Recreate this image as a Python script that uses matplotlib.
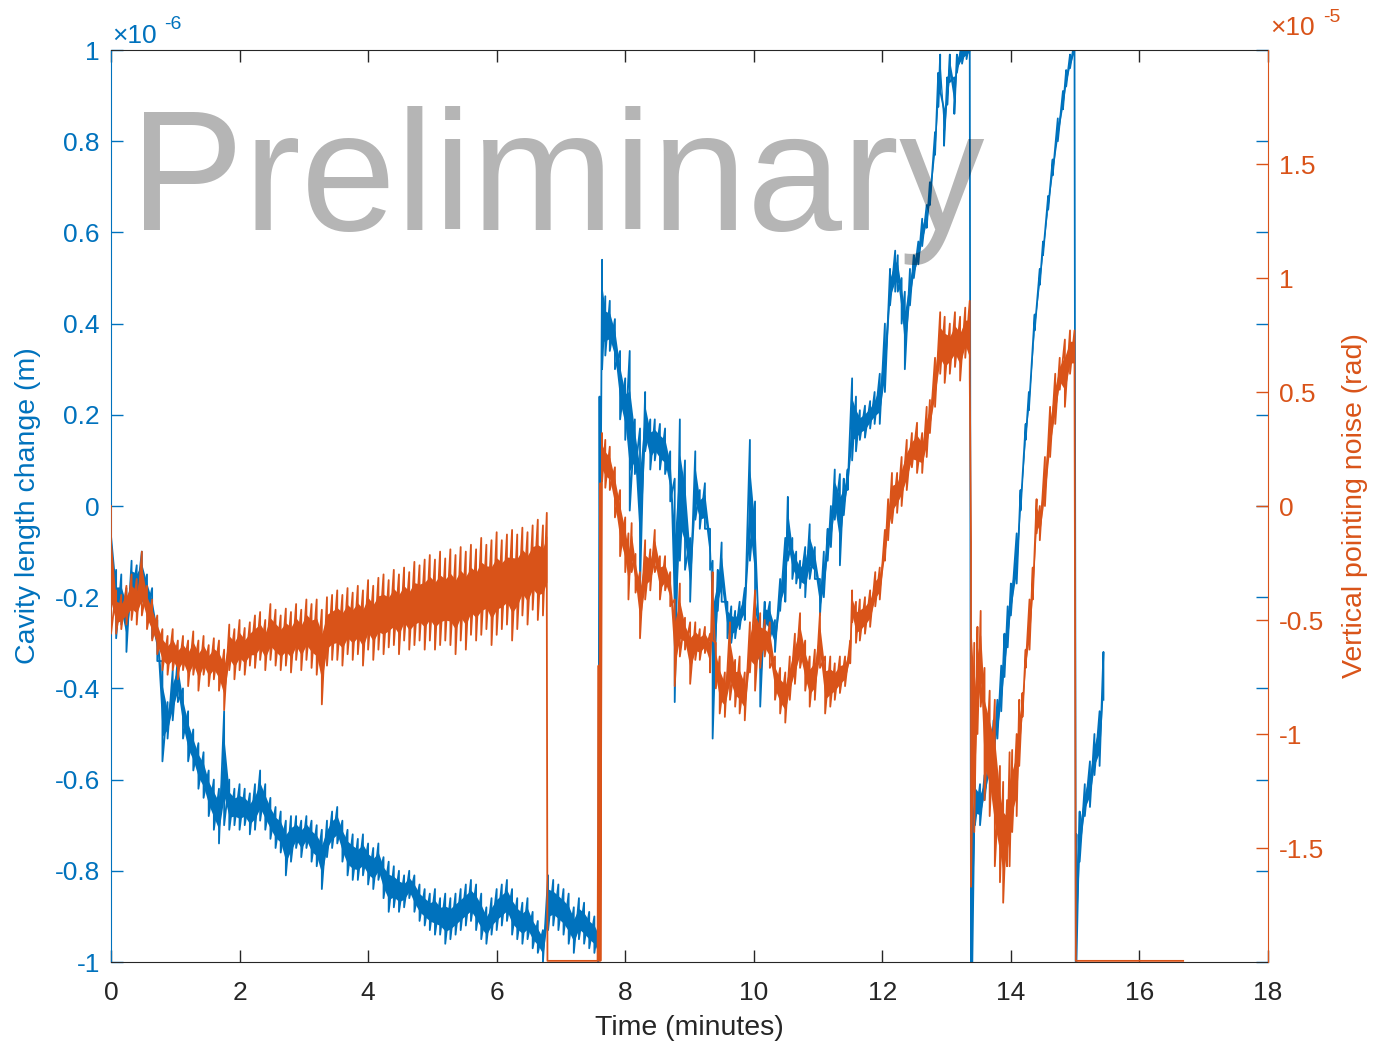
import numpy as np
import matplotlib
matplotlib.use("Agg")
import matplotlib.pyplot as plt

# --- data (time in minutes) ---
# cavity length change, units of 1e-6 m. each knot: lower / upper edge of the noise band
blue_a_t = [0.00, 0.08, 0.16, 0.24, 0.32, 0.40, 0.48, 0.56, 0.64, 0.72,
            0.80, 0.88, 0.96, 1.04, 1.12, 1.20, 1.28, 1.36, 1.44, 1.52,
            1.60, 1.68, 1.76, 1.84, 1.92, 2.00, 2.08, 2.16, 2.24, 2.32,
            2.40, 2.48, 2.56, 2.64, 2.72, 2.80, 2.88, 2.96, 3.04, 3.12,
            3.20, 3.28, 3.36, 3.44, 3.52, 3.60, 3.68, 3.76, 3.84, 3.92,
            4.00, 4.08, 4.16, 4.24, 4.32, 4.40, 4.48, 4.56, 4.64, 4.72,
            4.80, 4.88, 4.96, 5.04, 5.12, 5.20, 5.28, 5.36, 5.44, 5.52,
            5.60, 5.68, 5.76, 5.84, 5.92, 6.00, 6.08, 6.16, 6.24, 6.32,
            6.40, 6.48, 6.56, 6.64, 6.72, 6.80, 6.88, 6.96, 7.04, 7.12,
            7.20, 7.28, 7.36, 7.44, 7.52, 7.58]
blue_a_lo = [-0.22, -0.29, -0.26, -0.32, -0.21, -0.20, -0.21, -0.23, -0.29, -0.34,
             -0.56, -0.51, -0.47, -0.43, -0.51, -0.56, -0.58, -0.62, -0.64, -0.68,
             -0.71, -0.74, -0.70, -0.71, -0.70, -0.71, -0.70, -0.72, -0.71, -0.69,
             -0.71, -0.73, -0.75, -0.76, -0.81, -0.78, -0.75, -0.77, -0.75, -0.78,
             -0.79, -0.84, -0.77, -0.75, -0.74, -0.78, -0.81, -0.82, -0.82, -0.81,
             -0.83, -0.84, -0.82, -0.86, -0.89, -0.88, -0.89, -0.88, -0.86, -0.89,
             -0.91, -0.92, -0.93, -0.94, -0.94, -0.96, -0.95, -0.94, -0.93, -0.92,
             -0.91, -0.93, -0.95, -0.96, -0.94, -0.93, -0.92, -0.91, -0.94, -0.95,
             -0.96, -0.95, -0.97, -0.98, -1.00, -0.93, -0.92, -0.93, -0.94, -0.96,
             -0.98, -0.95, -0.96, -0.97, -0.98, -1.00]
blue_a_hi = [0.00, -0.14, -0.15, -0.18, -0.12, -0.13, -0.10, -0.15, -0.18, -0.25,
             -0.34, -0.43, -0.36, -0.33, -0.40, -0.45, -0.49, -0.52, -0.54, -0.58,
             -0.60, -0.62, -0.45, -0.60, -0.62, -0.61, -0.62, -0.63, -0.61, -0.58,
             -0.61, -0.64, -0.66, -0.67, -0.69, -0.68, -0.68, -0.69, -0.68, -0.69,
             -0.70, -0.71, -0.69, -0.67, -0.66, -0.69, -0.71, -0.72, -0.73, -0.72,
             -0.74, -0.75, -0.74, -0.77, -0.78, -0.79, -0.80, -0.81, -0.80, -0.81,
             -0.83, -0.84, -0.85, -0.84, -0.86, -0.85, -0.86, -0.85, -0.84, -0.83,
             -0.82, -0.83, -0.85, -0.88, -0.86, -0.84, -0.83, -0.82, -0.84, -0.86,
             -0.87, -0.86, -0.89, -0.91, -0.93, -0.81, -0.82, -0.83, -0.84, -0.85,
             -0.88, -0.86, -0.87, -0.89, -0.90, -0.92]

blue_jump_t = [7.60, 7.61]
blue_jump_v = [0.24, -0.18]

blue_b_t = [7.64, 7.69, 7.76, 7.84, 7.92, 8.00, 8.07, 8.15, 8.23, 8.31,
            8.39, 8.46, 8.54, 8.62, 8.70, 8.77, 8.85, 8.93, 9.01, 9.09,
            9.16, 9.24, 9.32, 9.36, 9.44, 9.50, 9.59, 9.65, 9.71, 9.78,
            9.86, 9.94, 10.02, 10.10, 10.17, 10.25, 10.33, 10.41, 10.49, 10.53,
            10.60, 10.66, 10.72, 10.80, 10.87, 10.95, 11.03, 11.09, 11.15, 11.20,
            11.26, 11.34, 11.40, 11.46, 11.53, 11.59, 11.65, 11.73, 11.81, 11.88,
            11.96, 12.04, 12.12, 12.20, 12.24, 12.30, 12.35, 12.43, 12.49, 12.56,
            12.62, 12.69, 12.74, 12.82, 12.87, 12.90, 12.96, 13.01, 13.05, 13.12,
            13.16, 13.24, 13.31, 13.36]
blue_b_lo = [0.30, 0.33, 0.34, 0.30, 0.19, 0.145, -0.01, 0.07, -0.18, 0.12,
             0.08, 0.10, 0.08, 0.07, 0.01, -0.43, -0.12, -0.14, -0.21, -0.03,
             -0.05, -0.05, -0.14, -0.51, -0.23, -0.21, -0.29, -0.30, -0.29, -0.27,
             -0.25, -0.12, -0.21, -0.44, -0.27, -0.29, -0.32, -0.23, -0.21, -0.12,
             -0.16, -0.17, -0.18, -0.20, -0.16, -0.16, -0.24, -0.20, -0.12, -0.09,
             -0.03, -0.13, -0.02, 0.035, 0.10, 0.12, 0.145, 0.15, 0.17, 0.18,
             0.18, 0.25, 0.44, 0.47, 0.47, 0.40, 0.30, 0.44, 0.50, 0.53,
             0.57, 0.61, 0.66, 0.77, 0.875, 0.91, 0.79, 0.88, 0.93, 0.86,
             0.95, 0.97, 0.98, 0.99]
blue_b_hi = [0.54, 0.46, 0.45, 0.41, 0.34, 0.28, 0.34, 0.19, 0.17, 0.25,
             0.19, 0.19, 0.18, 0.17, 0.12, 0.06, 0.19, 0.10, -0.07, 0.12,
             0.035, 0.05, -0.05, -0.12, -0.14, -0.08, -0.21, -0.22, -0.23, -0.21,
             -0.18, 0.145, 0.01, -0.29, -0.21, -0.21, -0.25, -0.16, -0.07, 0.02,
             -0.07, -0.10, -0.12, -0.09, -0.04, -0.09, -0.16, -0.10, -0.05, 0.00,
             0.08, 0.07, 0.06, 0.08, 0.28, 0.24, 0.21, 0.22, 0.23, 0.25,
             0.29, 0.40, 0.52, 0.56, 0.55, 0.50, 0.47, 0.52, 0.55, 0.58,
             0.63, 0.66, 0.71, 0.82, 0.95, 0.99, 0.87, 0.94, 0.99, 0.94,
             0.99, 1.02, 1.02, 1.02]

blue_c_t = [13.40, 13.44, 13.52, 13.59, 13.67, 13.73, 13.79, 13.85, 13.90, 13.95,
            14.00, 14.09, 14.15, 14.23, 14.28, 14.37, 14.45, 14.50, 14.58, 14.65,
            14.73, 14.81, 14.86, 14.92, 14.99]
blue_c_lo = [-1.00, -0.70, -0.70, -0.645, -0.59, -0.56, -0.51, -0.45, -0.375, -0.31,
             -0.24, -0.17, -0.01, 0.145, 0.21, 0.385, 0.485, 0.55, 0.65, 0.725,
             0.80, 0.87, 0.92, 0.96, 0.99]
blue_c_hi = [-0.57, -0.59, -0.61, -0.59, -0.535, -0.47, -0.425, -0.35, -0.28, -0.22,
             -0.17, -0.06, 0.035, 0.18, 0.25, 0.42, 0.52, 0.58, 0.68, 0.76,
             0.85, 0.91, 0.956, 0.99, 1.02]

blue_d_t = [15.02, 15.07, 15.15, 15.23, 15.30, 15.38, 15.44]
blue_d_lo = [-1.00, -0.78, -0.68, -0.66, -0.59, -0.57, -0.425]
blue_d_hi = [-0.72, -0.67, -0.61, -0.56, -0.50, -0.45, -0.32]

# vertical pointing noise, units of 1e-5 rad
orange_a_t = [0.00, 0.08, 0.16, 0.24, 0.32, 0.40, 0.48, 0.56, 0.64, 0.72,
              0.80, 0.88, 0.96, 1.04, 1.12, 1.20, 1.28, 1.36, 1.44, 1.52,
              1.60, 1.68, 1.76, 1.84, 1.92, 2.00, 2.08, 2.16, 2.24, 2.32,
              2.40, 2.48, 2.56, 2.64, 2.72, 2.80, 2.88, 2.96, 3.04, 3.12,
              3.20, 3.28, 3.36, 3.44, 3.52, 3.60, 3.68, 3.76, 3.84, 3.92,
              4.00, 4.08, 4.16, 4.24, 4.32, 4.40, 4.48, 4.56, 4.64, 4.72,
              4.80, 4.88, 4.96, 5.04, 5.12, 5.20, 5.28, 5.36, 5.44, 5.52,
              5.60, 5.68, 5.76, 5.84, 5.92, 6.00, 6.08, 6.16, 6.24, 6.32,
              6.40, 6.48, 6.56, 6.64, 6.72, 6.78]
orange_a_lo = [-0.56, -0.56, -0.54, -0.52, -0.50, -0.52, -0.48, -0.54, -0.59, -0.65,
               -0.72, -0.74, -0.72, -0.76, -0.72, -0.79, -0.74, -0.81, -0.74, -0.79,
               -0.76, -0.81, -0.895, -0.72, -0.76, -0.72, -0.74, -0.70, -0.71, -0.675,
               -0.72, -0.675, -0.70, -0.72, -0.70, -0.73, -0.675, -0.72, -0.675, -0.71,
               -0.74, -0.87, -0.70, -0.675, -0.675, -0.70, -0.65, -0.675, -0.65, -0.70,
               -0.63, -0.675, -0.63, -0.65, -0.62, -0.61, -0.65, -0.59, -0.63, -0.61,
               -0.59, -0.63, -0.59, -0.63, -0.61, -0.59, -0.61, -0.65, -0.59, -0.63,
               -0.565, -0.59, -0.565, -0.54, -0.61, -0.565, -0.54, -0.52, -0.59, -0.54,
               -0.48, -0.52, -0.455, -0.50, -0.48, -0.435]
orange_a_hi = [0.00, -0.37, -0.39, -0.35, -0.30, -0.32, -0.20, -0.35, -0.41, -0.48,
               -0.54, -0.57, -0.54, -0.59, -0.57, -0.59, -0.55, -0.59, -0.57, -0.61,
               -0.58, -0.59, -0.63, -0.52, -0.54, -0.50, -0.535, -0.51, -0.48, -0.465,
               -0.50, -0.43, -0.455, -0.48, -0.45, -0.465, -0.43, -0.455, -0.41, -0.43,
               -0.41, -0.455, -0.40, -0.39, -0.37, -0.39, -0.36, -0.38, -0.35, -0.37,
               -0.325, -0.35, -0.315, -0.30, -0.325, -0.28, -0.30, -0.27, -0.29, -0.245,
               -0.26, -0.235, -0.215, -0.235, -0.20, -0.23, -0.19, -0.215, -0.18, -0.20,
               -0.17, -0.19, -0.14, -0.17, -0.15, -0.115, -0.15, -0.125, -0.105, -0.125,
               -0.095, -0.115, -0.085, -0.06, -0.085, -0.03]

# laser unlocked: signal sits at the bottom of the range
orange_off1_t = [6.79, 7.57, 7.585, 7.595, 7.61, 7.615]
orange_off1_v = [-1.995, -1.995, -0.70, -1.995, 0.10, -1.995]

orange_b_t = [7.64, 7.69, 7.76, 7.84, 7.92, 8.00, 8.05, 8.10, 8.16, 8.23,
              8.31, 8.39, 8.46, 8.54, 8.62, 8.70, 8.77, 8.85, 8.93, 9.01,
              9.09, 9.16, 9.24, 9.32, 9.36, 9.41, 9.47, 9.55, 9.63, 9.71,
              9.78, 9.86, 9.94, 10.02, 10.10, 10.17, 10.25, 10.33, 10.41, 10.49,
              10.56, 10.64, 10.72, 10.80, 10.87, 10.95, 11.03, 11.11, 11.19, 11.26,
              11.34, 11.42, 11.50, 11.53, 11.59, 11.65, 11.73, 11.81, 11.89, 11.96,
              12.04, 12.09, 12.15, 12.23, 12.30, 12.38, 12.46, 12.54, 12.62, 12.69,
              12.74, 12.82, 12.90, 12.97, 13.05, 13.13, 13.21, 13.29, 13.36]
orange_b_lo = [0.11, 0.08, 0.07, -0.05, -0.22, -0.29, -0.41, -0.29, -0.38, -0.58,
               -0.41, -0.37, -0.29, -0.41, -0.37, -0.44, -0.79, -0.66, -0.63, -0.78,
               -0.675, -0.675, -0.645, -0.73, -0.59, -0.80, -0.91, -0.925, -0.85, -0.88,
               -0.91, -0.94, -0.73, -0.81, -0.71, -0.66, -0.71, -0.85, -0.91, -0.95,
               -0.85, -0.78, -0.71, -0.81, -0.88, -0.85, -0.71, -0.91, -0.88, -0.85,
               -0.82, -0.79, -0.69, -0.51, -0.60, -0.59, -0.56, -0.53, -0.44, -0.41,
               -0.24, -0.15, -0.075, -0.03, 0.00, 0.07, 0.17, 0.145, 0.145, 0.215,
               0.32, 0.435, 0.58, 0.54, 0.58, 0.61, 0.55, 0.65, 0.565]
orange_b_hi = [0.32, 0.29, 0.26, 0.17, 0.07, -0.05, -0.12, -0.075, -0.21, -0.29,
               -0.15, -0.19, -0.105, -0.22, -0.22, -0.29, -0.41, -0.34, -0.49, -0.51,
               -0.51, -0.54, -0.53, -0.56, -0.29, -0.60, -0.66, -0.73, -0.51, -0.675,
               -0.66, -0.73, -0.51, -0.37, -0.47, -0.50, -0.51, -0.66, -0.71, -0.73,
               -0.66, -0.56, -0.47, -0.59, -0.66, -0.63, -0.47, -0.66, -0.66, -0.69,
               -0.66, -0.66, -0.59, -0.37, -0.42, -0.41, -0.40, -0.37, -0.29, -0.27,
               -0.105, 0.03, 0.145, 0.145, 0.215, 0.29, 0.32, 0.365, 0.32, 0.435,
               0.465, 0.65, 0.85, 0.83, 0.80, 0.85, 0.83, 0.87, 0.90]

orange_c_t = [13.38, 13.43, 13.48, 13.53, 13.59, 13.67, 13.75, 13.83, 13.88, 13.94,
              13.98, 14.02, 14.09, 14.13, 14.18, 14.23, 14.29, 14.34, 14.40, 14.45,
              14.53, 14.61, 14.69, 14.76, 14.84, 14.92, 14.99]
orange_c_lo = [-1.67, -1.43, -1.00, -0.88, -1.29, -1.36, -1.58, -1.65, -1.74, -1.58,
               -1.58, -1.43, -1.36, -1.14, -0.925, -0.71, -0.63, -0.41, -0.12, -0.15,
               0.00, 0.215, 0.36, 0.51, 0.435, 0.58, 0.58]
orange_c_hi = [-0.16, -0.60, -0.53, -0.46, -0.71, -0.81, -0.85, -1.14, -1.21, -1.29,
               -1.08, -1.07, -1.00, -0.85, -0.82, -0.63, -0.41, -0.27, 0.03, 0.00,
               0.215, 0.435, 0.58, 0.65, 0.73, 0.77, 0.77]

orange_off2_t = [15.01, 16.68]
orange_off2_v = [-1.995, -1.995]

x_ticks = [0, 2, 4, 6, 8, 10, 12, 14, 16, 18]
left_ticks = [-1, -0.8, -0.6, -0.4, -0.2, 0, 0.2, 0.4, 0.6, 0.8, 1]
left_labels = ["-1", "-0.8", "-0.6", "-0.4", "-0.2", "0", "0.2", "0.4", "0.6", "0.8", "1"]
right_ticks = [-1.5, -1, -0.5, 0, 0.5, 1, 1.5]
right_labels = ["-1.5", "-1", "-0.5", "0", "0.5", "1", "1.5"]


def zigzag(t, lo, hi):
    # each knot is drawn as a stroke from the top of the band to the bottom
    tt = np.repeat(np.asarray(t, float), 2)
    vv = np.empty(len(tt))
    vv[0::2] = hi
    vv[1::2] = lo
    return tt, vv


def join(*parts):
    ts, vs = zip(*parts)
    return np.concatenate(ts), np.concatenate(vs)


def band(ax, t, lo, hi, color):
    # the dense middle of the noise band is solid colour
    lo = np.asarray(lo)
    hi = np.asarray(hi)
    w = hi - lo
    ax.fill_between(t, lo + 0.25 * w, hi - 0.25 * w, color=color, lw=0)


blue_t, blue_v = join(zigzag(blue_a_t, blue_a_lo, blue_a_hi),
                      (blue_jump_t, blue_jump_v),
                      zigzag(blue_b_t, blue_b_lo, blue_b_hi),
                      ([13.38], [-1.0]),
                      zigzag(blue_c_t, blue_c_lo, blue_c_hi),
                      ([15.01], [-1.0]),
                      zigzag(blue_d_t, blue_d_lo, blue_d_hi))

orange_t, orange_v = join(zigzag(orange_a_t, orange_a_lo, orange_a_hi),
                          (orange_off1_t, orange_off1_v),
                          zigzag(orange_b_t, orange_b_lo, orange_b_hi),
                          zigzag(orange_c_t, orange_c_lo, orange_c_hi),
                          (orange_off2_t, orange_off2_v))

BLUE = "#0072BD"
ORANGE = "#D95319"
GREY = "#262626"

plt.rcParams['font.family'] = ['Liberation Sans', 'DejaVu Sans']

fig = plt.figure(figsize=(13.75, 10.44), dpi=100)
ax1 = fig.add_axes([0.08073, 0.07854, 0.84145, 0.87356])
ax2 = ax1.twinx()

band(ax1, blue_a_t, blue_a_lo, blue_a_hi, BLUE)
band(ax1, blue_b_t, blue_b_lo, blue_b_hi, BLUE)
band(ax1, blue_c_t, blue_c_lo, blue_c_hi, BLUE)
band(ax1, blue_d_t, blue_d_lo, blue_d_hi, BLUE)
ax1.plot(blue_t, blue_v, color=BLUE, lw=1.3)

band(ax2, orange_a_t, orange_a_lo, orange_a_hi, ORANGE)
band(ax2, orange_b_t, orange_b_lo, orange_b_hi, ORANGE)
band(ax2, orange_c_t, orange_c_lo, orange_c_hi, ORANGE)
ax2.plot(orange_t, orange_v, color=ORANGE, lw=1.3, zorder=3)

ax1.set_xlim(0, 18)
ax1.set_ylim(-1, 1)
ax2.set_ylim(-2, 2)

ax1.set_xticks(x_ticks)
ax1.set_xticklabels([str(x) for x in x_ticks])
ax1.set_yticks(left_ticks)
ax1.set_yticklabels(left_labels)
ax2.set_yticks(right_ticks)
ax2.set_yticklabels(right_labels)

ax1.tick_params(axis='x', direction='in', length=8.5, width=1, color=GREY,
                labelcolor=GREY, labelsize=19, pad=14, top=True)
ax1.tick_params(axis='y', direction='in', length=8.5, width=1, color=BLUE,
                labelcolor=BLUE, labelsize=19, pad=8, right=True)
ax2.tick_params(axis='y', direction='in', length=8.5, width=1, color=ORANGE,
                labelcolor=ORANGE, labelsize=19, pad=8)

for side in ['top', 'bottom']:
    ax1.spines[side].set_color(GREY)
ax1.spines['left'].set_color(BLUE)
ax1.spines['right'].set_visible(False)
for side in ['top', 'bottom', 'left']:
    ax2.spines[side].set_visible(False)
ax2.spines['right'].set_color(ORANGE)

ax1.set_xlabel("Time (minutes)", fontsize=20.5, color=GREY)
ax1.xaxis.label.set_va('center')
ax1.xaxis.set_label_coords(0.5, -0.072)
ax1.set_ylabel("Cavity length change (m)", fontsize=20.5, color=BLUE)
ax1.yaxis.label.set_va('center')
ax1.yaxis.set_label_coords(-0.0717, 0.5)
ax2.set_ylabel("Vertical pointing noise (rad)", fontsize=20.5, color=ORANGE)
ax2.yaxis.label.set_va('center')
ax2.yaxis.set_label_coords(1.0752, 0.5)

# exponent markers like MATLAB puts on the axes
fig.text(112 / 1375, 1 - 43 / 1044, "\u00d710", color=BLUE, fontsize=19, va='baseline')
fig.text(164 / 1375, 1 - 29 / 1044, "-6", color=BLUE, fontsize=14, va='baseline')
fig.text(1270 / 1375, 1 - 35 / 1044, "\u00d710", color=ORANGE, fontsize=19, va='baseline')
fig.text(1323 / 1375, 1 - 22 / 1044, "-5", color=ORANGE, fontsize=14, va='baseline')

fig.text(130 / 1375, 1 - 230 / 1044, "Preliminary", color='k', alpha=0.29,
         fontsize=123, va='baseline', ha='left', zorder=10)

fig.savefig("out.png", dpi=100)
